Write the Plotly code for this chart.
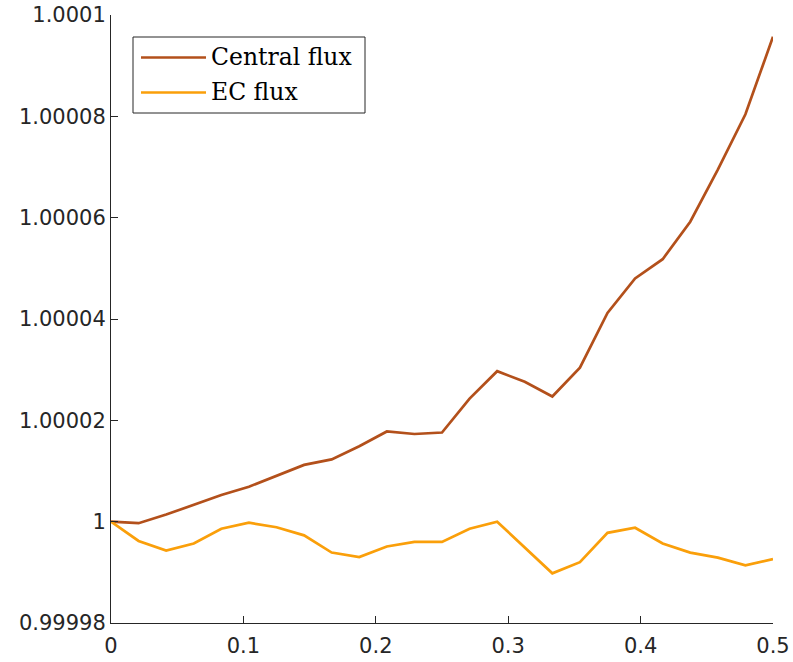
import plotly.graph_objects as go

# Sample positions along the domain
x_vals = [0.0, 0.020833, 0.041667, 0.0625, 0.083333, 0.104167, 0.125, 0.145833,
          0.166667, 0.1875, 0.208333, 0.229167, 0.25, 0.270833, 0.291667, 0.3125,
          0.333333, 0.354167, 0.375, 0.395833, 0.416667, 0.4375, 0.458333, 0.479167, 0.5]

# Deviation from 1 (in units of 1e-6) for each scheme
central_dev = [0.0, -0.3, 1.4, 3.4, 5.25, 6.9, 9.1, 11.2, 12.3, 14.9, 17.8, 17.3, 17.6,
               24.3, 29.7, 27.6, 24.7, 30.4, 41.2, 48.0, 51.8, 59.2, 69.5, 80.4, 95.7]
ec_dev = [0.0, -3.8, -5.7, -4.3, -1.4, -0.2, -1.1, -2.7, -6.1, -7.0, -4.9, -4.0, -4.0,
          -1.4, 0.0, -5.1, -10.2, -8.0, -2.2, -1.2, -4.3, -6.1, -7.1, -8.6, -7.4]

central_vals = [1.0 + d * 1e-6 for d in central_dev]
ec_vals = [1.0 + d * 1e-6 for d in ec_dev]

series_names = ["Central flux", "EC flux"]
series_colors = ["#B3501B", "#FA9F0A"]

y_ticks = [0.99998, 1.0, 1.00002, 1.00004, 1.00006, 1.00008, 1.0001]
y_tick_text = ["0.99998", "1", "1.00002", "1.00004", "1.00006", "1.00008", "1.0001"]
x_ticks = [0, 0.1, 0.2, 0.3, 0.4, 0.5]
x_tick_text = ["0", "0.1", "0.2", "0.3", "0.4", "0.5"]

axis_color = "#262626"

fig = go.Figure()
for name, ys, col in zip(series_names, [central_vals, ec_vals], series_colors):
    fig.add_trace(go.Scatter(x=x_vals, y=ys, mode="lines", name=name,
                             line=dict(color=col, width=2.7), showlegend=False))

W, H = 793, 662
ml, mr, mt, mb = 111, 20, 15, 39
pw, ph = W - ml - mr, H - mt - mb


def px_x(p):
    return (p - ml) / pw


def px_y(p):
    return (H - mb - p) / ph


# Boxed legend with long line samples
shapes = [dict(type="rect", xref="paper", yref="paper",
               x0=px_x(133), x1=px_x(365), y0=px_y(113), y1=px_y(37),
               line=dict(color=axis_color, width=1), fillcolor="white", layer="above")]
annotations = []
row_y = [57.5, 92.5]
for name, col, ry in zip(series_names, series_colors, row_y):
    shapes.append(dict(type="line", xref="paper", yref="paper",
                       x0=px_x(141), x1=px_x(206), y0=px_y(ry), y1=px_y(ry),
                       line=dict(color=col, width=2.7), layer="above"))
    annotations.append(dict(xref="paper", yref="paper", x=px_x(209), y=px_y(ry),
                            text=name, showarrow=False, xanchor="left", yanchor="middle",
                            font=dict(family="DejaVu Serif", size=23.5, color="black")))

tick_font = dict(family="DejaVu Sans", size=21, color=axis_color)

fig.update_layout(
    width=W, height=H,
    margin=dict(l=ml, r=mr, t=mt, b=mb),
    paper_bgcolor="white", plot_bgcolor="white",
    shapes=shapes, annotations=annotations,
    font=tick_font,
    xaxis=dict(range=[0, 0.5], tickvals=x_ticks, ticktext=x_tick_text, tickfont=tick_font,
               showgrid=False, zeroline=False, showline=True, linecolor=axis_color,
               linewidth=1, ticks="inside", ticklen=7, tickcolor=axis_color,
               tickwidth=1, automargin=False, ticklabelstandoff=4),
    yaxis=dict(range=[0.99998, 1.0001], tickvals=y_ticks, ticktext=y_tick_text,
               tickfont=tick_font,
               showgrid=False, zeroline=False, showline=True, linecolor=axis_color,
               linewidth=1, ticks="inside", ticklen=7, tickcolor=axis_color,
               tickwidth=1, automargin=False),
)

fig.write_html("out.html")
